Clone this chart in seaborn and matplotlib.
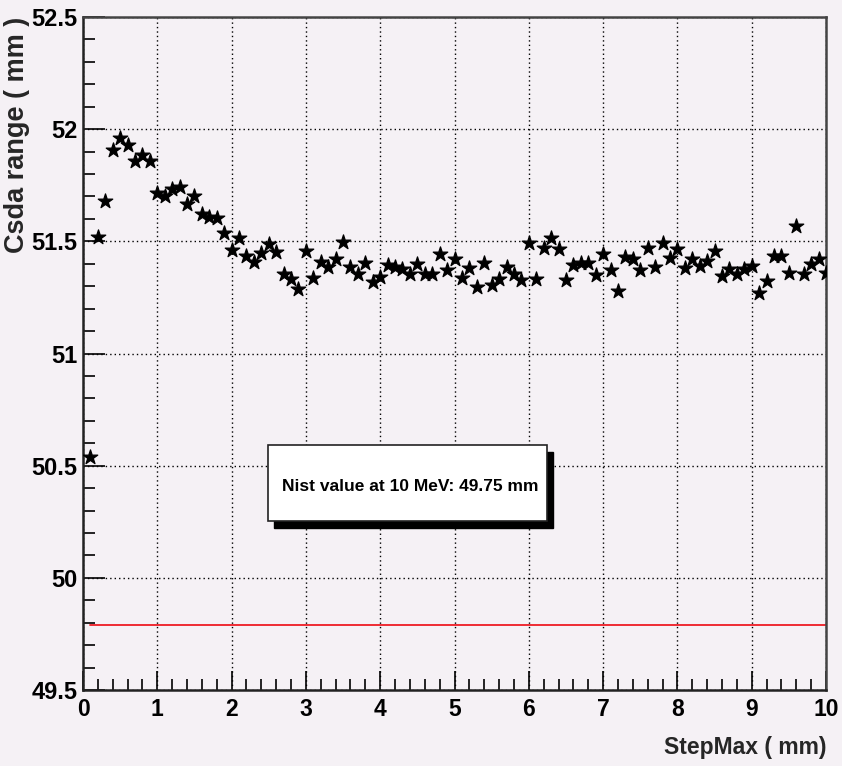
import numpy as np
import pandas as pd
import matplotlib
matplotlib.use("Agg")
import matplotlib.pyplot as plt
from matplotlib.patches import Rectangle
from matplotlib.ticker import MultipleLocator
import seaborn as sns

# ---- data ----
step_max = [round(0.1 * i, 1) for i in range(1, 101)]
csda_range = [
    50.54, 51.52, 51.68, 51.906, 51.96, 51.93, 51.856, 51.884, 51.856, 51.714,
    51.70, 51.732, 51.74, 51.665, 51.70, 51.624, 51.61, 51.603, 51.539, 51.461,
    51.517, 51.434, 51.408, 51.446, 51.487, 51.454, 51.356, 51.33, 51.286, 51.457,
    51.338, 51.41, 51.385, 51.42, 51.497, 51.385, 51.353, 51.405, 51.32, 51.342,
    51.394, 51.385, 51.378, 51.353, 51.397, 51.353, 51.356, 51.445, 51.37, 51.42,
    51.338, 51.38, 51.298, 51.405, 51.305, 51.33, 51.385, 51.356, 51.326, 51.491,
    51.33, 51.472, 51.517, 51.464, 51.326, 51.394, 51.405, 51.405, 51.348, 51.445,
    51.372, 51.278, 51.432, 51.42, 51.372, 51.472, 51.385, 51.494, 51.427, 51.467,
    51.383, 51.42, 51.39, 51.412, 51.457, 51.345, 51.378, 51.353, 51.375, 51.39,
    51.271, 51.323, 51.434, 51.434, 51.36, 51.568, 51.353, 51.40, 51.42, 51.357,
]
nist_x = [0.1, 10.0]
nist_y = [49.79, 49.79]
x_label = "StepMax ( mm)"
y_label = "Csda range ( mm )"
box_text = "Nist value at 10 MeV: 49.75 mm"

df = pd.DataFrame({"x": step_max, "y": csda_range})
nist_df = pd.DataFrame({"x": nist_x, "y": nist_y})

bg = "#f5f1f5"
sns.set_theme(style="white")
plt.rcParams["font.family"] = ["Liberation Sans", "DejaVu Sans"]

fig = plt.figure(figsize=(8.42, 7.66), dpi=100, facecolor=bg)
ax = fig.add_axes([83 / 842, 1 - 690 / 766, (826 - 83) / 842, (690 - 17) / 766])
ax.set_facecolor(bg)

sns.lineplot(data=nist_df, x="x", y="y", color="#ee1c24", linewidth=1.3, ax=ax, zorder=2)
sns.scatterplot(data=df, x="x", y="y", marker="*", color="black", s=120,
                edgecolor="black", linewidth=0.9, ax=ax, zorder=3)

ax.set_xlim(0, 10)
ax.set_ylim(49.5, 52.5)
ax.xaxis.set_major_locator(MultipleLocator(1))
ax.xaxis.set_minor_locator(MultipleLocator(0.2))
ax.yaxis.set_major_locator(MultipleLocator(0.5))
ax.yaxis.set_minor_locator(MultipleLocator(0.1))
ax.set_xticks(range(0, 11))
ax.set_xticklabels([str(i) for i in range(0, 11)])
ax.set_yticks([49.5, 50, 50.5, 51, 51.5, 52, 52.5])
ax.set_yticklabels(["49.5", "50", "50.5", "51", "51.5", "52", "52.5"])

ax.grid(True, which="major", color="black", linestyle=(0, (1, 2.2)), linewidth=1.0)
ax.tick_params(axis="both", which="both", direction="in", left=True, bottom=True,
               top=False, right=False, colors="black")
ax.tick_params(axis="y", which="major", length=16, width=1.2, pad=4, labelsize=17)
ax.tick_params(axis="y", which="minor", length=8.5, width=1.2)
ax.tick_params(axis="x", which="major", length=14, width=1.2, pad=6, labelsize=16.5)
ax.tick_params(axis="x", which="minor", length=8, width=1.2)
for lab in ax.get_xticklabels() + ax.get_yticklabels():
    lab.set_fontweight("bold")

for side in ["left", "bottom"]:
    ax.spines[side].set_color("#222222")
    ax.spines[side].set_linewidth(1.8)
for side in ["top", "right"]:
    ax.spines[side].set_color("#444444")
    ax.spines[side].set_linewidth(1.8)

ax.set_xlabel(x_label, fontsize=16.5, fontweight="bold", loc="right")
ax.xaxis.set_label_coords(1.0, -0.068)
ax.set_ylabel(y_label, fontsize=19.5, fontweight="bold", loc="top")
ax.yaxis.set_label_coords(-0.0715, 1.0)

# text box with shadow
x0, x1 = (268 - 83) / 743, (547 - 83) / 743
y0, y1 = (690 - 521) / 673, (690 - 445) / 673
ax.add_patch(Rectangle((x0 + 0.008, y0 - 0.0105), x1 - x0, y1 - y0, transform=ax.transAxes,
                       facecolor="black", edgecolor="black", zorder=5))
ax.add_patch(Rectangle((x0, y0), x1 - x0, y1 - y0, transform=ax.transAxes,
                       facecolor="white", edgecolor="#222222", linewidth=1.2, zorder=6))
ax.text((410 - 83) / 743, (690 - 487) / 673, box_text, transform=ax.transAxes,
        ha="center", va="center", fontsize=12.5, fontweight="bold", color="black", zorder=7)

fig.savefig("out.png", dpi=100, facecolor=bg)
